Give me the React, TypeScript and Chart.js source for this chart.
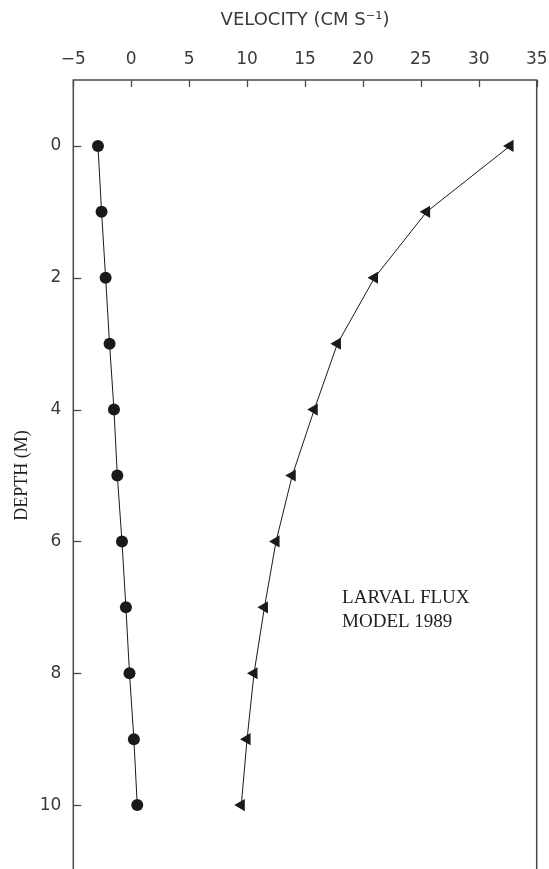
import React, { useEffect, useRef } from 'react';
import { Chart, registerables } from 'chart.js';

Chart.register(...registerables);

// ---- data ----
const depths = [0, 1, 2, 3, 4, 5, 6, 7, 8, 9, 10];
const circleVelocity = [-2.87, -2.56, -2.21, -1.87, -1.49, -1.2, -0.8, -0.46, -0.15, 0.23, 0.52];
const triangleVelocity = [32.7, 25.5, 21.0, 17.8, 15.8, 13.9, 12.5, 11.5, 10.6, 10.0, 9.5];
const xTicks = [-5, 0, 5, 10, 15, 20, 25, 30, 35];
const yTicks = [0, 2, 4, 6, 8, 10];
const xTitle = 'VELOCITY (CM S\u207B\u00B9)';
const yTitle = 'DEPTH (M)';
const noteLines = ['LARVAL FLUX', 'MODEL 1989'];
const noteX = 18.2;
const noteDepths = [6.86, 7.22];

const INK = '#1a1a1a';
const TEXT = '#1e1e1e';
const TICK_TEXT = '#3a3a3a';

const framePlugin = {
  id: 'frameTicks',
  afterDraw(chart: any) {
    const { ctx, chartArea: a, scales } = chart;
    const x = scales.x;
    const y = scales.y;
    ctx.save();
    ctx.strokeStyle = '#4a4a4a';
    ctx.lineWidth = 1.5;
    ctx.strokeRect(a.left, a.top, a.right - a.left, a.bottom - a.top);
    ctx.lineWidth = 1.3;
    xTicks.forEach((v) => {
      const px = Math.round(x.getPixelForValue(v)) + 0.5;
      ctx.beginPath();
      ctx.moveTo(px, a.top);
      ctx.lineTo(px, a.top + 7);
      ctx.stroke();
    });
    yTicks.forEach((v) => {
      const py = Math.round(y.getPixelForValue(v)) + 0.5;
      ctx.beginPath();
      ctx.moveTo(a.left, py);
      ctx.lineTo(a.left + 8, py);
      ctx.stroke();
    });
    ctx.fillStyle = TEXT;
    ctx.font = '19px "Liberation Serif", serif';
    ctx.textAlign = 'left';
    ctx.textBaseline = 'middle';
    noteLines.forEach((t, i) => {
      ctx.fillText(t, x.getPixelForValue(noteX), y.getPixelForValue(noteDepths[i]));
    });
    ctx.restore();
  },
};

export default function App() {
  const canvasRef = useRef<HTMLCanvasElement | null>(null);

  useEffect(() => {
    const canvas = canvasRef.current;
    if (!canvas) return;
    const chart = new Chart(canvas, {
      type: 'scatter',
      data: {
        datasets: [
          {
            label: 'circles',
            data: depths.map((d, i) => ({ x: circleVelocity[i], y: d })),
            showLine: true,
            borderColor: INK,
            borderWidth: 1,
            pointStyle: 'circle',
            pointRadius: 6,
            pointBackgroundColor: INK,
            pointBorderColor: INK,
            pointBorderWidth: 0,
          },
          {
            label: 'triangles',
            data: depths.map((d, i) => ({ x: triangleVelocity[i], y: d })),
            showLine: true,
            borderColor: INK,
            borderWidth: 1,
            pointStyle: 'triangle',
            pointRotation: -90,
            pointRadius: 7,
            pointBackgroundColor: INK,
            pointBorderColor: INK,
            pointBorderWidth: 0,
          },
        ],
      },
      options: {
        animation: false,
        responsive: false,
        devicePixelRatio: 1,
        events: [],
        layout: { padding: { top: 0, left: 0, right: 12.3, bottom: 12 } },
        plugins: {
          legend: { display: false },
          tooltip: { enabled: false },
        },
        scales: {
          x: {
            type: 'linear',
            position: 'top',
            min: -5,
            max: 35,
            grid: { display: false, drawTicks: false },
            border: { display: false },
            afterBuildTicks: (s: any) => {
              s.ticks = xTicks.map((v) => ({ value: v }));
            },
            afterFit: (s: any) => {
              s.height = 80;
              s.paddingLeft = 0;
              s.paddingRight = 0;
            },
            ticks: {
              padding: 10,
              maxRotation: 0,
              color: TICK_TEXT,
              font: { family: '"DejaVu Sans", sans-serif', size: 17 },
              callback: (v: any) => (Number(v) < 0 ? '\u2212' + Math.abs(Number(v)) : String(v)),
            },
            title: {
              display: true,
              text: xTitle,
              color: TICK_TEXT,
              padding: { top: 10, bottom: 0 },
              font: { family: '"DejaVu Sans", sans-serif', size: 18 },
            },
          },
          y: {
            type: 'linear',
            reverse: true,
            min: -1,
            max: 11,
            grid: { display: false, drawTicks: false },
            border: { display: false },
            afterBuildTicks: (s: any) => {
              s.ticks = yTicks.map((v) => ({ value: v }));
            },
            afterFit: (s: any) => {
              s.width = 73.3;
              s.paddingTop = 0;
              s.paddingBottom = 0;
            },
            ticks: {
              padding: 12,
              color: TICK_TEXT,
              font: { family: '"DejaVu Sans", sans-serif', size: 17 },
            },
            title: {
              display: true,
              text: yTitle,
              color: TEXT,
              padding: { top: 11, bottom: 0 },
              font: { family: '"Liberation Serif", serif', size: 18 },
            },
          },
        },
      },
      plugins: [framePlugin],
    } as any);
    return () => chart.destroy();
  }, []);

  return (
    <div style={{ position: 'absolute', left: 0, top: 0, width: 549, height: 869, overflow: 'hidden' }}>
      <canvas ref={canvasRef} width={549} height={883} style={{ display: 'block' }} />
    </div>
  );
}
